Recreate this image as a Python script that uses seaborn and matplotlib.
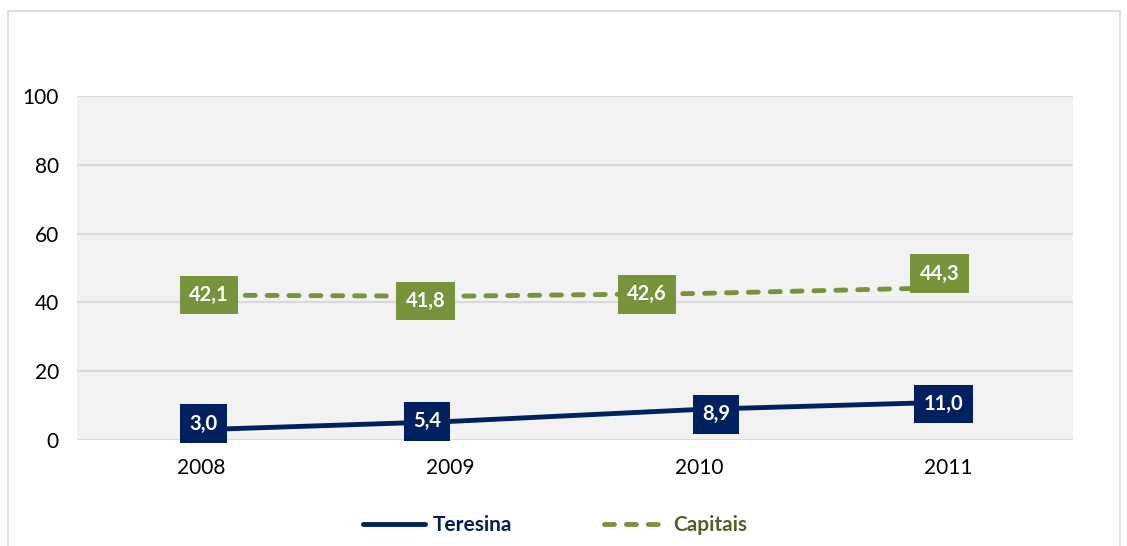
import matplotlib
matplotlib.use("Agg")
import matplotlib.pyplot as plt
import matplotlib.patches as mpatches
from matplotlib.lines import Line2D
import seaborn as sns
import pandas as pd

years = ["2008", "2009", "2010", "2011"]
teresina = [3.0, 5.4, 8.9, 11.0]
capitais = [42.1, 41.8, 42.6, 44.3]
series_names = ["Teresina", "Capitais"]
y_ticks = [0, 20, 40, 60, 80, 100]

navy = "#002060"
olive = "#77933C"

df = pd.DataFrame({
    "ano": years * 2,
    "valor": teresina + capitais,
    "serie": [series_names[0]] * 4 + [series_names[1]] * 4,
})

sns.set_theme(style="white")
plt.rcParams["font.family"] = ["Lato", "DejaVu Sans"]

fig = plt.figure(figsize=(11.27, 5.46), dpi=100)
ax = fig.add_axes([77 / 1127, 1 - 440 / 546, (1073 - 77) / 1127, (440 - 96) / 546])
ax.set_facecolor("#f2f2f2")

lw = 3.5
sns.lineplot(data=df, x="ano", y="valor", hue="serie", style="serie",
             palette={"Teresina": navy, "Capitais": olive},
             dashes={"Teresina": "", "Capitais": (2.05, 2.45)},
             linewidth=lw, legend=False, ax=ax, sort=False)
for ln in ax.get_lines():
    ln.set_dash_capstyle("round")
    ln.set_solid_capstyle("butt")

ax.set_xlim(-0.5, 3.5)
ax.set_ylim(0, 100)
ax.set_yticks(y_ticks)
ax.set_xticks(range(len(years)))
ax.set_xticklabels(years)
ax.set_xlabel("")
ax.set_ylabel("")
ax.grid(axis="y", color="#d9d9d9", linewidth=1.5)
ax.grid(axis="x", visible=False)
ax.set_axisbelow(True)
for s in ax.spines.values():
    s.set_visible(False)
ax.tick_params(axis="y", length=0, pad=13, labelsize=15, labelcolor="#000000")
ax.tick_params(axis="x", length=0, pad=13, labelsize=15, labelcolor="#000000")

# label offsets in points (dx, dy)
cap_off = [(5.4, 0), (-18, -3.6), (-38, -0.7), (-6.5, 10)]
ter_off = [(1.4, 4.3), (-17, 0), (12, -3.6), (-3.6, -1.4)]

def put(vals, offs, color):
    for i, (v, o) in enumerate(zip(vals, offs)):
        ax.annotate(f"{v:.1f}".replace(".", ","), (i, v), xytext=o,
                    textcoords="offset points", ha="center", va="center",
                    color="white", fontsize=14.5, fontweight="bold",
                    bbox=dict(boxstyle="square,pad=0.46", fc=color, ec="none"),
                    zorder=5)

put(capitais, cap_off, olive)
put(teresina, ter_off, navy)

handles = [
    Line2D([], [], color=navy, lw=lw, solid_capstyle="round"),
    Line2D([], [], color=olive, lw=lw, dashes=(2.05, 2.45), dash_capstyle="round"),
]
leg = fig.legend(handles, series_names, loc="center", bbox_to_anchor=(555 / 1127, 1 - 525 / 546),
                 ncol=2, frameon=False, handlelength=3.0, columnspacing=4.4,
                 prop={"weight": "bold", "size": 15}, handletextpad=0.35)
for t, c in zip(leg.get_texts(), [navy, "#4f6228"]):
    t.set_color(c)

fig.patches.append(mpatches.Rectangle((8 / 1127, -0.02), (1120 - 8) / 1127, 1.0 - 11 / 546 + 0.02,
                                      transform=fig.transFigure, fill=False,
                                      ec="#d9d9d9", lw=1.2))

fig.savefig("out.png", dpi=100)
